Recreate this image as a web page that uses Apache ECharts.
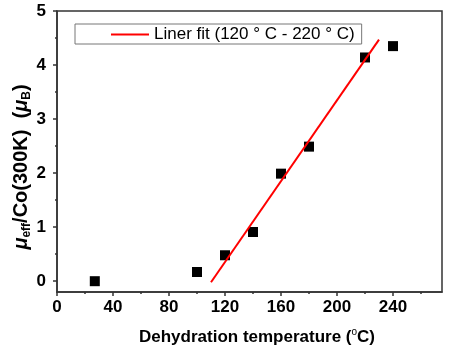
<!DOCTYPE html>
<html><head><meta charset="utf-8">
<script src="https://cdn.jsdelivr.net/npm/echarts@6/dist/echarts.min.js"></script>
<style>html,body{margin:0;padding:0;background:#fff}#c{width:450px;height:349px}</style>
</head><body><div id="c"></div>
<script>
const temps = [27, 100, 120, 140, 160, 180, 220, 240];
const moments = [0.00, 0.17, 0.48, 0.91, 1.99, 2.49, 4.14, 4.35];
const fitX = [110, 230];
const fitY = [-0.02, 4.47];
const xLabels = [0, 40, 80, 120, 160, 200, 240];
const xMinor = [20, 60, 100, 140, 180, 220, 260];
const yLabels = [0, 1, 2, 3, 4, 5];
const yMinor = [0.5, 1.5, 2.5, 3.5, 4.5];
const fitName = 'Liner fit (120 ° C - 220 ° C)';

const FONT = '"Liberation Sans", Arial, sans-serif';
const axisCol = '#333';
const chart = echarts.init(document.getElementById('c'));
const G = {left: 57, right: 8, top: 11, bottom: 57};
const labelStyle = {color: '#000', fontWeight: 'bold', fontSize: 17, fontFamily: FONT};
chart.setOption({
  animation: false,
  grid: Object.assign({show: true, borderColor: axisCol, borderWidth: 1.5, containLabel: false}, G),
  legend: {
    left: 75, top: 24, orient: 'horizontal',
    padding: [2, 7, 1, 36],
    borderColor: '#777', borderWidth: 1, borderRadius: 0,
    itemWidth: 38, itemHeight: 2, itemGap: 4,
    textStyle: {fontSize: 17, fontFamily: FONT, color: '#000', lineHeight: 17},
    data: [{name: fitName, icon: 'rect'}]
  },
  xAxis: [{
    type: 'value', min: 0, max: 275,
    axisLine: {show: true, onZero: false, lineStyle: {color: axisCol, width: 1.5}},
    axisTick: {show: true, inside: false, length: 4, customValues: xLabels, lineStyle: {color: axisCol, width: 1.5}},
    axisLabel: Object.assign({customValues: xLabels, margin: 7}, labelStyle),
    splitLine: {show: false}
  }, {
    type: 'value', min: 0, max: 275, position: 'bottom',
    axisLine: {show: false, onZero: false},
    axisTick: {show: true, length: 2, customValues: xMinor, lineStyle: {color: axisCol, width: 1.5}},
    axisLabel: {show: false}, splitLine: {show: false}
  }],
  yAxis: [{
    type: 'value', min: -0.2, max: 5,
    axisLine: {show: true, onZero: false, lineStyle: {color: axisCol, width: 1.5}},
    axisTick: {show: true, length: 4, customValues: yLabels, lineStyle: {color: axisCol, width: 1.5}},
    axisLabel: Object.assign({customValues: yLabels, margin: 11}, labelStyle),
    splitLine: {show: false}
  }, {
    type: 'value', min: -0.2, max: 5, position: 'left',
    axisLine: {show: false, onZero: false},
    axisTick: {show: true, length: 2, customValues: yMinor, lineStyle: {color: axisCol, width: 1.5}},
    axisLabel: {show: false}, splitLine: {show: false}
  }],
  series: [{
    name: 'data', type: 'scatter', xAxisIndex: 0, yAxisIndex: 0,
    symbol: 'rect', symbolSize: 10,
    itemStyle: {color: '#000', opacity: 1},
    data: temps.map((t, i) => [t, moments[i]]),
    z: 3
  }, {
    name: fitName, type: 'line', xAxisIndex: 0, yAxisIndex: 0,
    symbol: 'none', showSymbol: false,
    lineStyle: {color: '#ff0000', width: 2},
    itemStyle: {color: '#ff0000'},
    data: fitX.map((x, i) => [x, fitY[i]]),
    z: 4
  }],
  graphic: [{
    type: 'text', x: 21, y: 167, rotation: Math.PI / 2,
    style: {
      text: '{mu|μ}{sub|eff}{b|/Co(300K)  (}{mu|μ}{sub|B}{b|)}',
      align: 'center', verticalAlign: 'middle',
      rich: {
        mu: {fontStyle: 'italic', fontWeight: 'bold', fontSize: 20, fontFamily: FONT, fill: '#000', lineHeight: 24, verticalAlign: 'middle'},
        b: {fontWeight: 'bold', fontSize: 20, fontFamily: FONT, fill: '#000', lineHeight: 24, verticalAlign: 'middle'},
        sub: {fontWeight: 'bold', fontSize: 12, fontFamily: FONT, fill: '#000', lineHeight: 12, verticalAlign: 'bottom'}
      }
    }
  }, {
    type: 'text', x: 257, y: 337,
    style: {
      text: '{b|Dehydration temperature (}{sup|o}{b|C)}',
      align: 'center', verticalAlign: 'middle',
      rich: {
        b: {fontWeight: 'bold', fontSize: 17, fontFamily: FONT, fill: '#000', lineHeight: 20, verticalAlign: 'middle'},
        sup: {fontWeight: 'normal', fontSize: 10, fontFamily: FONT, fill: '#000', lineHeight: 10, verticalAlign: 'top'}
      }
    }
  }]
});
</script></body></html>
